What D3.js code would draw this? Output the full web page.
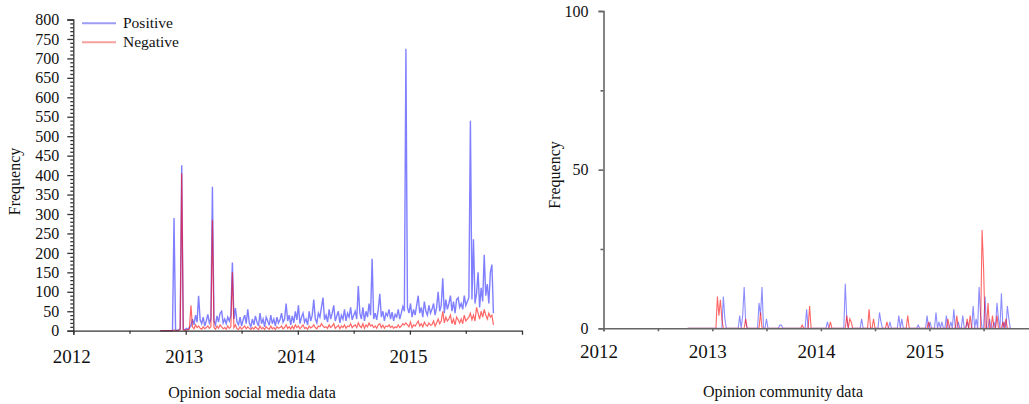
<!DOCTYPE html>
<html><head><meta charset="utf-8">
<script src="https://cdn.jsdelivr.net/npm/d3@7"></script>
<style>
html,body{margin:0;padding:0;background:#fff;}
svg text{font-family:"Liberation Serif","DejaVu Serif",serif;fill:#111;}
</style></head>
<body><svg id="c" width="1029" height="404"></svg>
<script>
// ---- data (5-day samples starting 2012-10-10) ----
const startDate = "2012-10-10";
const stepDays = 5;
const socialPositive = [
0,0,0,0,0,0,0,0,0,290,
3,0,2,5,425,4,2,6,3,8,
12,30,15,40,22,90,28,18,35,12,
25,42,20,30,370,25,15,38,22,45,
50,20,30,18,35,25,40,175,30,58,
22,15,35,12,28,40,18,55,20,10,
30,15,38,22,12,45,18,30,10,35,
25,14,40,18,30,12,35,20,28,45,
22,30,70,25,40,15,38,20,50,28,
65,18,35,45,22,30,15,50,25,40,
80,30,20,45,35,60,85,28,40,22,
55,30,45,65,25,38,50,20,40,30,
55,25,45,35,60,28,40,50,30,115,
45,30,60,25,50,35,70,40,185,30,
45,28,55,95,35,50,25,45,38,55,
30,48,25,42,35,55,30,45,62,50,
725,60,45,70,35,55,40,65,90,45,
60,35,75,50,40,65,45,55,70,40,
60,100,50,65,135,45,80,55,70,90,
50,75,45,80,85,60,70,55,90,65,
75,85,540,80,235,70,95,150,60,110,
75,195,90,120,70,150,170,45];
const socialNegative = [
0,0,0,0,0,0,0,0,0,2,
0,0,1,3,405,2,1,3,2,4,
65,10,5,15,8,12,6,4,10,5,
8,12,6,10,285,8,4,12,6,15,
10,5,8,4,12,6,10,150,8,15,
5,3,10,4,8,12,5,10,6,3,
8,4,10,6,3,12,5,8,3,10,
6,4,12,5,8,3,10,6,8,12,
5,8,15,6,10,4,12,5,15,8,
12,5,10,15,6,8,4,12,7,10,
15,8,5,12,10,18,12,8,10,6,
15,8,12,18,6,10,14,5,12,8,
15,6,12,10,18,8,12,15,8,20,
12,8,18,6,15,10,20,12,15,8,
12,6,15,18,8,14,6,12,10,15,
8,12,6,10,8,15,8,12,18,15,
20,15,10,22,8,15,12,18,25,12,
18,10,22,15,12,20,14,16,25,12,
20,30,18,25,50,20,35,25,30,40,
18,30,15,35,28,20,30,18,40,25,
30,35,45,28,40,25,60,45,30,50,
35,55,40,30,45,35,40,15];
const communityPositive = [
0,0,0,0,0,0,0,0,0,0,
0,0,0,0,0,0,0,0,0,0,
0,0,0,0,10,3,0,0,0,0,
0,0,0,0,0,4,0,4,13,2,
0,0,0,0,0,0,0,0,8,4,
13,0,0,3,0,0,0,0,0,0,
0,0,1,1,0,0,0,0,0,0,
0,0,0,0,0,0,0,0,0,0,
6,0,0,0,0,0,0,0,0,0,
0,0,0,0,2,0,0,0,0,0,
0,0,0,0,0,0,14,3,0,0,
0,0,0,0,0,0,0,3,0,0,
0,0,0,0,0,0,0,0,0,5,
2,0,0,0,0,0,2,0,0,0,
0,0,4,0,3,0,0,0,0,0,
0,0,0,0,0,1,0,0,0,0,
0,4,0,2,0,0,0,5,0,2,
0,2,0,0,4,0,0,2,0,6,
0,0,2,0,0,4,0,0,2,0,
0,0,7,0,3,0,13,4,0,0,
10,0,0,3,0,0,2,0,8,3,
0,11,0,2,0,7,3,0];
const communityNegative = [
0,0,0,0,0,0,0,0,0,0,
0,0,0,0,0,0,0,0,0,0,
10,4,9,3,0,0,0,0,0,0,
0,0,0,0,0,0,0,0,0,3,
0,0,0,0,0,0,0,0,0,5,
0,0,0,0,0,0,0,0,0,0,
0,0,0,0,0,0,0,0,0,0,
0,0,0,0,0,0,0,1,0,0,
0,0,7,0,0,0,0,0,0,0,
0,0,0,0,0,0,2,0,0,0,
0,0,0,0,0,0,0,4,0,3,
2,0,0,0,0,0,0,0,0,0,
0,0,6,0,0,3,0,0,0,0,
0,0,0,0,2,0,0,0,0,0,
0,0,0,0,0,0,0,0,4,0,
0,0,0,0,0,0,0,0,0,0,
0,0,2,0,0,0,0,0,0,0,
0,0,0,0,0,3,0,0,0,0,
0,4,0,0,0,0,0,0,3,0,
4,0,0,0,0,0,0,0,31,19,
0,0,8,0,0,4,0,0,4,0,
0,0,2,0,3,0,0,0];
const yearTicks = [2012, 2013, 2014, 2015];
const seriesNames = ["Positive", "Negative"];
const leftTitle = "Opinion social media data";
const rightTitle = "Opinion community data";
const yLabel = "Frequency";

// ---- drawing ----
const svg = d3.select("#c");
const t0 = d3.timeParse("%Y-%m-%d")(startDate);
const dates = socialPositive.map((_, i) => d3.timeDay.offset(t0, i * stepDays));
const domainX = [new Date(2012,0,1), new Date(2016,0,1)];
const yearDates = yearTicks.map(y => new Date(y,0,1));
const halfDates = d3.range(2012, 2016).map(y => new Date(y,6,2));

function drawLine(g, x, y, vals, color, op, w) {
  const line = d3.line().x((d,i)=>x(dates[i])).y(d=>y(d));
  g.append("path").datum(vals).attr("d", line)
    .attr("fill","none").attr("stroke",color).attr("stroke-opacity",op)
    .attr("stroke-width",w).attr("stroke-linejoin","miter");
}

// LEFT PANEL
{
  const x = d3.scaleTime().domain(domainX).range([73.3, 522]);
  const y = d3.scaleLinear().domain([0,800]).range([330.7, 19.5]);
  const g = svg.append("g");
  drawLine(g, x, y, socialPositive, "#0000ff", 0.5, 1.4);
  drawLine(g, x, y, socialNegative, "#ff0000", 0.6, 1.2);
  const ax = svg.append("g").attr("transform","translate(0,330.7)");
  ax.call(d3.axisBottom(x).tickValues(halfDates).tickSize(3).tickFormat(""));
  const ax2 = svg.append("g").attr("transform","translate(0,330.7)");
  ax2.call(d3.axisBottom(x).tickValues(yearDates).tickSize(4).tickPadding(15).tickFormat(d3.timeFormat("%Y")));
  ax2.selectAll("text").attr("font-size",19).attr("dx",-2);
  const ay = svg.append("g").attr("transform","translate(73.3,0)");
  ay.call(d3.axisLeft(y).tickValues(d3.range(0,801,10).filter(v=>v%50)).tickSize(3).tickFormat(""));
  const ay2 = svg.append("g").attr("transform","translate(73.3,0)");
  ay2.call(d3.axisLeft(y).tickValues(d3.range(0,801,50)).tickSize(6).tickPadding(8));
  ay2.selectAll("text").attr("font-size",16);
  [ax,ax2,ay,ay2].forEach(a=>{a.selectAll("path,line").attr("stroke","#333").attr("stroke-width",1.3);});
  [ax,ay].forEach(a=>a.select(".domain").remove());
  svg.append("text").attr("transform","translate(20,181.5) rotate(-90)").attr("text-anchor","middle")
    .attr("font-size",16).text(yLabel);
  svg.append("text").attr("x",252).attr("y",398).attr("text-anchor","middle").attr("font-size",16).text(leftTitle);
  const legColors = ["#9c9cf4","#f7a0a0"];
  seriesNames.forEach((n,i)=>{
    const ly = 23.3 + i*19;
    svg.append("line").attr("x1",82).attr("x2",116).attr("y1",ly).attr("y2",ly)
      .attr("stroke",legColors[i]).attr("stroke-width",2);
    svg.append("text").attr("x",123).attr("y",ly+5).attr("font-size",15.5).text(n);
  });
}

// RIGHT PANEL
{
  const x = d3.scaleTime().domain(domainX).range([603.5, 1038]);
  const y = d3.scaleLinear().domain([0,100]).range([328.3, 11]);
  const g = svg.append("g");
  drawLine(g, x, y, communityPositive, "#0000ff", 0.45, 1.1);
  drawLine(g, x, y, communityNegative, "#ff0000", 0.6, 1.1);
  const ax = svg.append("g").attr("transform","translate(0,328.3)");
  ax.call(d3.axisBottom(x).tickValues(halfDates).tickSize(3).tickFormat(""));
  const ax2 = svg.append("g").attr("transform","translate(0,328.3)");
  ax2.call(d3.axisBottom(x).tickValues(yearDates).tickSize(3).tickPadding(13).tickFormat(d3.timeFormat("%Y")));
  ax2.selectAll("text").attr("font-size",19).attr("dx",-5);
  const ay = svg.append("g").attr("transform","translate(603.5,0)");
  ay.call(d3.axisLeft(y).tickValues([25,75]).tickSize(3).tickFormat(""));
  const ay2 = svg.append("g").attr("transform","translate(603.5,0)");
  ay2.call(d3.axisLeft(y).tickValues([0,50,100]).tickSize(5).tickPadding(10));
  ay2.selectAll("text").attr("font-size",16);
  [ax,ax2,ay,ay2].forEach(a=>{a.selectAll("path,line").attr("stroke","#666").attr("stroke-width",1.6);});
  [ax,ay].forEach(a=>a.select(".domain").remove());
  svg.append("text").attr("transform","translate(560,175) rotate(-90)").attr("text-anchor","middle")
    .attr("font-size",16).text(yLabel);
  svg.append("text").attr("x",783).attr("y",397).attr("text-anchor","middle").attr("font-size",16).text(rightTitle);
}
</script></body></html>
